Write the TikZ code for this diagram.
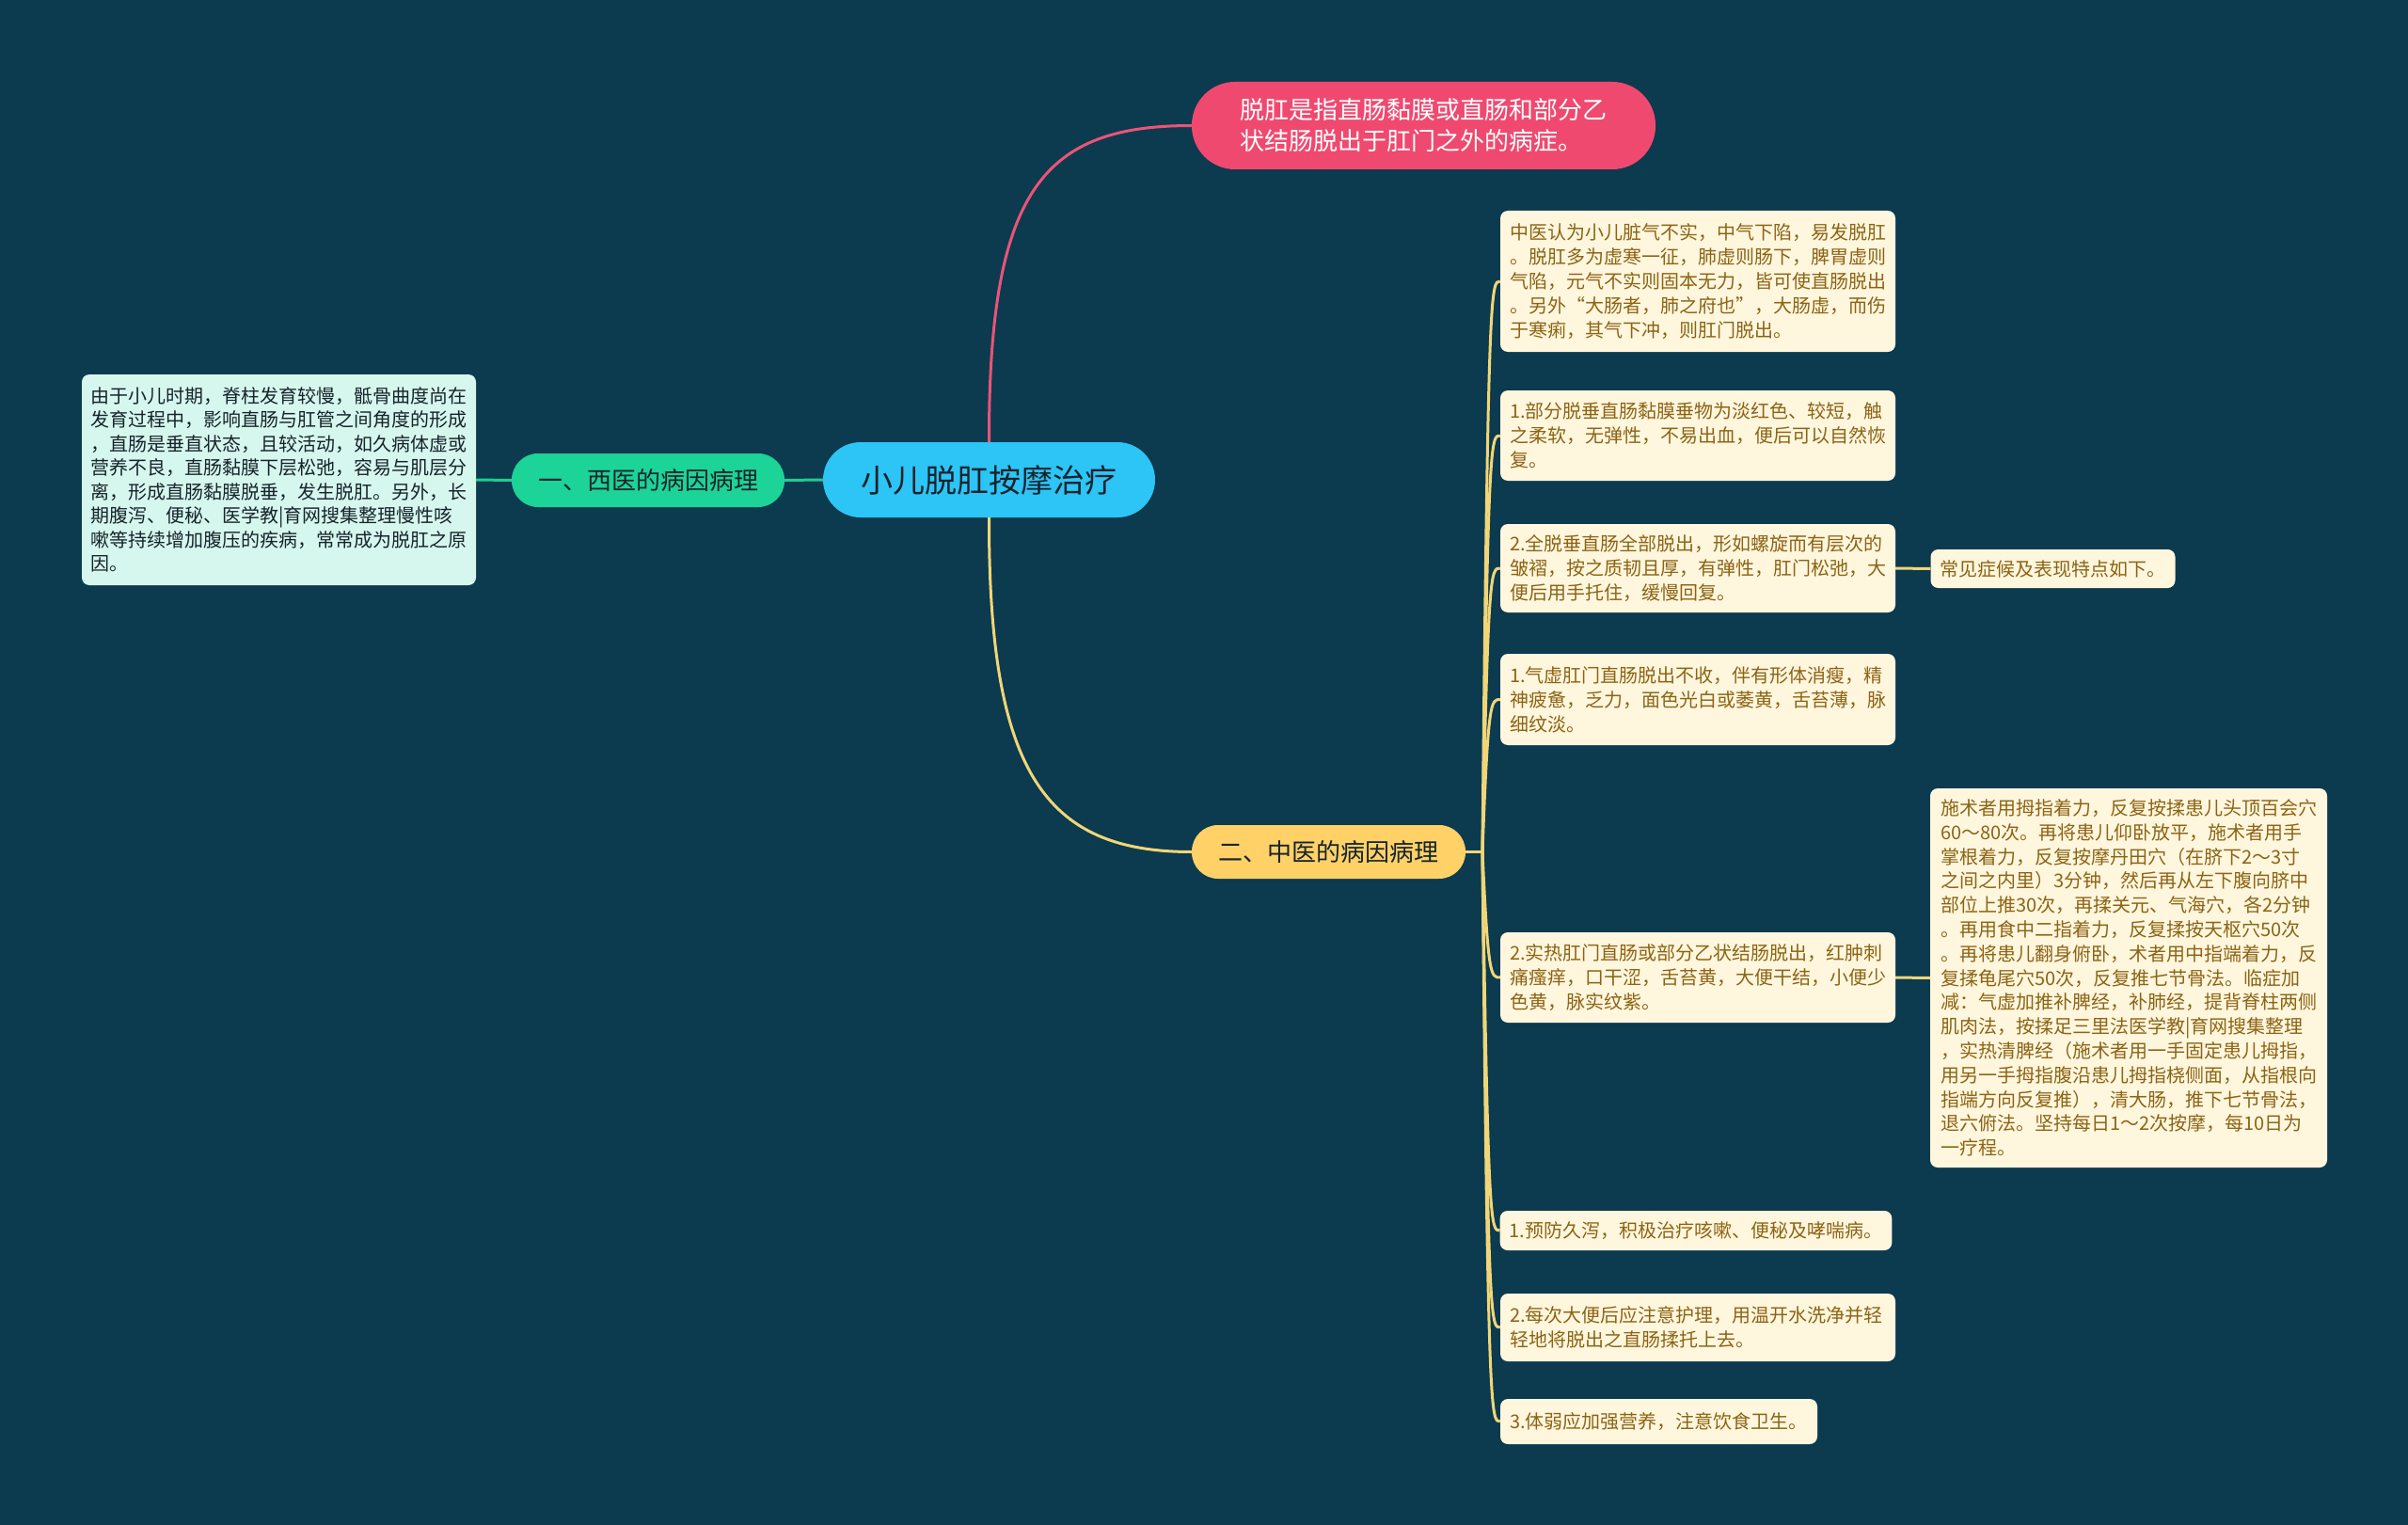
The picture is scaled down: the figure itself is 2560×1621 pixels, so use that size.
\documentclass[tikz,border=0pt]{standalone}
\usepackage{fontspec}
\newfontfamily\cjk{Noto Sans CJK SC}
\definecolor{bgc}{RGB}{12,58,78}
\definecolor{rootc}{RGB}{45,196,246}
\definecolor{greenc}{RGB}{28,211,152}
\definecolor{redc}{RGB}{240,73,111}
\definecolor{yelc}{RGB}{255,209,102}
\definecolor{mintc}{RGB}{214,247,237}
\definecolor{creamc}{RGB}{255,246,222}
\definecolor{browntxt}{RGB}{140,100,20}
\definecolor{darktxt}{RGB}{22,36,44}
\definecolor{pinkline}{RGB}{233,84,120}
\definecolor{yline}{RGB}{240,214,120}
\definecolor{gline}{RGB}{30,205,150}
\begin{document}
\begin{tikzpicture}[x=1pt,y=-1pt,
  topic/.style={inner sep=0pt, text=darktxt},
  leafbox/.style={fill=creamc, rounded corners=8pt, text=browntxt, align=left,
     text width=400pt, inner xsep=10pt, inner ysep=0pt,
     font=\cjk\fontsize{20}{26}\selectfont},
  leafone/.style={fill=creamc, rounded corners=8pt, text=browntxt,
     inner xsep=10pt, inner ysep=0pt, font=\cjk\fontsize{20}{26}\selectfont},
  yl/.style={draw=yline, line width=3pt},
  pl/.style={draw=pinkline, line width=3pt},
  gl/.style={draw=gline, line width=3pt}]
\useasboundingbox (0,0) rectangle (2560,1621);
\fill[bgc] (0,0) rectangle (2560,1621);

% main topics
\node[topic, fill=rootc, rounded corners=40pt, minimum width=353pt, minimum height=80pt,
  font=\cjk\fontsize{34}{40}\selectfont] (root) at (1051.5,510) {小儿脱肛按摩治疗};
\node[topic, fill=greenc, rounded corners=28pt, minimum width=290pt, minimum height=57pt,
  font=\cjk\fontsize{26}{30}\selectfont] (west) at (689,510.5) {一、西医的病因病理};
\node[topic, fill=yelc, rounded corners=28pt, minimum width=291pt, minimum height=57pt,
  font=\cjk\fontsize{26}{30}\selectfont] (east) at (1412.5,905.5) {二、中医的病因病理};
\node[topic, fill=redc, text=white, rounded corners=46pt, minimum width=493pt, minimum height=93pt,
  align=left, font=\cjk\fontsize{26}{33}\selectfont] (red) at (1513.5,133.5)
  {脱肛是指直肠黏膜或直肠和部分乙\\状结肠脱出于肛门之外的病症。};

% left box
\node[fill=mintc, rounded corners=8pt, text=darktxt, align=left, text width=400pt,
  inner xsep=9.5pt, inner ysep=0pt, minimum height=224pt,
  font=\cjk\fontsize{20}{25.5}\selectfont] (lbox) at (296.5,510)
  {由于小儿时期，脊柱发育较慢，骶骨曲度尚在\\
   发育过程中，影响直肠与肛管之间角度的形成\\
   ，直肠是垂直状态，且较活动，如久病体虚或\\
   营养不良，直肠黏膜下层松弛，容易与肌层分\\
   离，形成直肠黏膜脱垂，发生脱肛。另外，长\\
   期腹泻、便秘、医学教|育网搜集整理慢性咳\\
   嗽等持续增加腹压的疾病，常常成为脱肛之原\\
   因。};

% right children
\node[leafbox, minimum height=150pt] (c1) at (1805,299)
  {中医认为小儿脏气不实，中气下陷，易发脱肛\\
   。脱肛多为虚寒一征，肺虚则肠下，脾胃虚则\\
   气陷，元气不实则固本无力，皆可使直肠脱出\\
   。另外“大肠者，肺之府也”，大肠虚，而伤\\
   于寒痢，其气下冲，则肛门脱出。};
\node[leafbox, minimum height=96pt] (c2) at (1805,463)
  {1.部分脱垂直肠黏膜垂物为淡红色、较短，触\\
   之柔软，无弹性，不易出血，便后可以自然恢\\
   复。};
\node[leafbox, minimum height=94pt] (c3) at (1805,604)
  {2.全脱垂直肠全部脱出，形如螺旋而有层次的\\
   皱褶，按之质韧且厚，有弹性，肛门松弛，大\\
   便后用手托住，缓慢回复。};
\node[leafone, minimum height=41pt] (s1) at (2182.5,604.5) {常见症候及表现特点如下。};
\node[leafbox, minimum height=97pt] (c4) at (1805,743.5)
  {1.气虚肛门直肠脱出不收，伴有形体消瘦，精\\
   神疲惫，乏力，面色光白或萎黄，舌苔薄，脉\\
   细纹淡。};
\node[leafbox, minimum height=96pt] (c5) at (1805,1039)
  {2.实热肛门直肠或部分乙状结肠脱出，红肿刺\\
   痛瘙痒，口干涩，舌苔黄，大便干结，小便少\\
   色黄，脉实纹紫。};
\node[leafbox, inner xsep=11pt, minimum height=403pt,
  font=\cjk\fontsize{20}{25.8}\selectfont] (s2) at (2263,1039.5)
  {施术者用拇指着力，反复按揉患儿头顶百会穴\\
   60～80次。再将患儿仰卧放平，施术者用手\\
   掌根着力，反复按摩丹田穴（在脐下2～3寸\\
   之间之内里）3分钟，然后再从左下腹向脐中\\
   部位上推30次，再揉关元、气海穴，各2分钟\\
   。再用食中二指着力，反复揉按天枢穴50次\\
   。再将患儿翻身俯卧，术者用中指端着力，反\\
   复揉龟尾穴50次，反复推七节骨法。临症加\\
   减：气虚加推补脾经，补肺经，提背脊柱两侧\\
   肌肉法，按揉足三里法医学教|育网搜集整理\\
   ，实热清脾经（施术者用一手固定患儿拇指，\\
   用另一手拇指腹沿患儿拇指桡侧面，从指根向\\
   指端方向反复推），清大肠，推下七节骨法，\\
   退六俯法。坚持每日1～2次按摩，每10日为\\
   一疗程。};
\node[leafone, minimum height=42pt, minimum width=416pt] (c6) at (1803,1308)
  {1.预防久泻，积极治疗咳嗽、便秘及哮喘病。};
\node[leafbox, minimum height=72pt] (c7) at (1805,1411)
  {2.每次大便后应注意护理，用温开水洗净并轻\\
   轻地将脱出之直肠揉托上去。};
\node[leafone, minimum height=48pt, minimum width=337pt] (c8) at (1763.5,1511)
  {3.体弱应加强营养，注意饮食卫生。};

% connectors
\draw[gl] (root.west) -- (west.east);
\draw[gl] (west.west) -- (lbox.east);
\draw[pl] (root.north) .. controls (1051,200) and (1110,133.5) .. (red.west);
\draw[yl] (root.south) .. controls (1051,820) and (1110,905.5) .. (east.west);

\coordinate (j) at (1576,905.5);
\draw[yl] (east.east) -- (j);
\draw[yl] (j) .. controls (1582,299) and (1585,299) .. (c1.west);
\draw[yl] (j) .. controls (1582,463) and (1585,463) .. (c2.west);
\draw[yl] (j) .. controls (1582,604) and (1585,604) .. (c3.west);
\draw[yl] (j) .. controls (1582,743.5) and (1585,743.5) .. (c4.west);
\draw[yl] (j) .. controls (1582,1039) and (1585,1039) .. (c5.west);
\draw[yl] (j) .. controls (1582,1308) and (1585,1308) .. (c6.west);
\draw[yl] (j) .. controls (1582,1411) and (1585,1411) .. (c7.west);
\draw[yl] (j) .. controls (1582,1511) and (1585,1511) .. (c8.west);
\draw[yl] (c3.east) -- (s1.west);
\draw[yl] (c5.east) -- (s2.west);
\end{tikzpicture}
\end{document}
